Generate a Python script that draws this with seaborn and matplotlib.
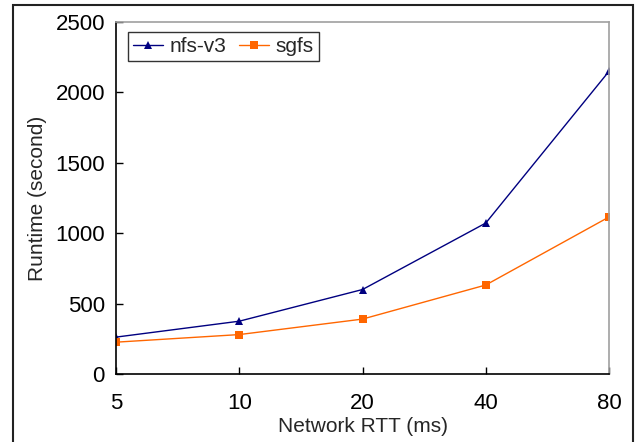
import pandas as pd
import matplotlib.pyplot as plt
import seaborn as sns
from matplotlib.patches import Rectangle

rtt = ['5', '10', '20', '40', '80']
nfs_v3 = [262, 375, 600, 1072, 2150]
sgfs = [226, 280, 390, 632, 1115]

df = pd.DataFrame({'rtt': rtt * 2,
                   'runtime': nfs_v3 + sgfs,
                   'system': ['nfs-v3'] * 5 + ['sgfs'] * 5})

sns.set_style("ticks")
plt.rcParams['font.family'] = ['Liberation Sans', 'DejaVu Sans']

fig = plt.figure(figsize=(6.39, 4.42), dpi=100)
ax = fig.add_axes([116 / 639, 1 - 374 / 442, (609 - 116) / 639, (374 - 22) / 442])

sns.lineplot(data=df, x='rtt', y='runtime', hue='system', style='system',
             palette={'nfs-v3': '#000080', 'sgfs': '#FF6600'},
             markers={'nfs-v3': '^', 'sgfs': 's'}, dashes=False,
             markersize=6, markeredgewidth=0, linewidth=1, ax=ax)

ax.set_xlim(0, 4)
ax.set_ylim(0, 2500)
ax.set_yticks([0, 500, 1000, 1500, 2000, 2500])
ax.set_xlabel('Network RTT (ms)', fontsize=15, labelpad=2)
ax.set_ylabel('Runtime (second)', fontsize=15, labelpad=6)
ax.tick_params(axis='both', which='major', direction='in', length=5, width=1,
               labelsize=16, color='black', labelcolor='black',
               bottom=True, left=True, top=False, right=False)
ax.tick_params(axis='x', pad=14)
ax.tick_params(axis='y', pad=8)
for s in ['left', 'bottom']:
    ax.spines[s].set_color('black')
    ax.spines[s].set_linewidth(1.2)
for s in ['top', 'right']:
    ax.spines[s].set_visible(True)
    ax.spines[s].set_color('#a0a0a0')
    ax.spines[s].set_linewidth(1.2)

leg = ax.legend(title=None, loc='upper left', bbox_to_anchor=(0.024, 0.972),
                ncol=2, fontsize=15, frameon=True, fancybox=False,
                handlelength=1.45, handletextpad=0.3, columnspacing=0.6,
                borderpad=0.25, borderaxespad=0)
leg.get_frame().set_edgecolor('black')
leg.get_frame().set_linewidth(1)

fig.patches.append(Rectangle((13 / 639, -0.05), 620 / 639, 1.05 - 5 / 442,
                             transform=fig.transFigure, fill=False,
                             edgecolor='#222222', linewidth=1.5))

plt.savefig('out.png', dpi=100)
